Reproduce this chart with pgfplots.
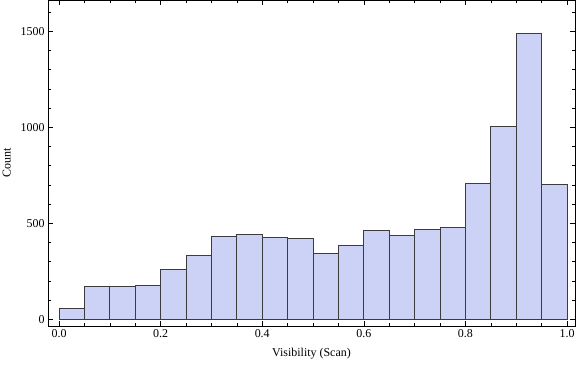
\documentclass[border=0pt]{standalone}
\usepackage{fontspec}
\setmainfont{Liberation Serif}
\usepackage{pgfplots}
\pgfplotsset{compat=1.18}
\definecolor{barfill}{RGB}{204,210,246}
\definecolor{baredge}{RGB}{60,60,64}
\begin{document}
\begin{tikzpicture}
\begin{axis}[
  name=ax,
  scale only axis,
  width=527bp, height=326bp,
  xmin=-0.0217, xmax=1.0157,
  ymin=-35, ymax=1663,
  axis line style={black, line width=0.8pt},
  xtick={0,0.2,0.4,0.6,0.8,1.0},
  minor xtick={0.05,0.1,0.15,0.25,0.3,0.35,0.45,0.5,0.55,0.65,0.7,0.75,0.85,0.9,0.95},
  ytick={0,500,1000,1500},
  minor ytick={100,200,300,400,600,700,800,900,1100,1200,1300,1400,1600},
  tick align=inside,
  major tick length=5bp,
  minor tick length=2.7bp,
  tick style={black, line width=0.6pt},
  xticklabel style={/pgf/number format/.cd, fixed, fixed zerofill, precision=1},
  yticklabel style={/pgf/number format/fixed},
  /pgf/number format/assume math mode=true,
  /pgf/number format/1000 sep={},
  ticklabel style={font=\fontsize{12}{14}\selectfont},
  label style={font=\fontsize{12}{14}\selectfont},
  xlabel={Visibility (Scan)},
  ylabel={Count},
  xlabel style={yshift=-4bp},
  ylabel style={yshift=3bp},
  clip=false,
]
\addplot[ybar interval, fill=barfill, draw=baredge, line width=0.7pt] coordinates {
(0.00,57) (0.05,172) (0.10,172) (0.15,177) (0.20,260) (0.25,333)
(0.30,430) (0.35,443) (0.40,427) (0.45,422) (0.50,344) (0.55,383)
(0.60,462) (0.65,437) (0.70,469) (0.75,479) (0.80,708) (0.85,1005)
(0.90,1490) (0.95,703) (1.00,703)
};
\end{axis}
\pgfresetboundingbox
\path ([shift={(-48bp,-40bp)}]ax.south west) rectangle ([shift={(1bp,0bp)}]ax.north east);
\end{tikzpicture}
\end{document}
